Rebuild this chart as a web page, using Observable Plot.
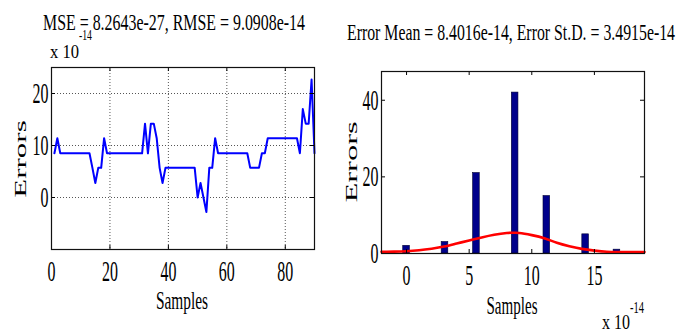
<!DOCTYPE html>
<html><head><meta charset="utf-8">
<script src="https://cdn.jsdelivr.net/npm/d3@7"></script>
<script src="https://cdn.jsdelivr.net/npm/@observablehq/plot@0.6"></script>
<style>
html,body{margin:0;padding:0;background:#fff;}
#fig{position:relative;width:698px;height:331px;overflow:hidden;background:#fff;}
#fig svg{position:absolute;top:0;}
</style></head><body><div id="fig"></div>
<script>
// ---- data ----
const sampleIndex = d3.range(1, 91);
const errorValues = [
  8.5, 11.4, 8.5, 8.5, 8.5, 8.5, 8.5, 8.5, 8.5, 8.5, 8.5, 8.5, 8.5,
  5.7, 2.8, 5.7, 5.7, 11.4,
  8.5, 8.5, 8.5, 8.5, 8.5, 8.5, 8.5, 8.5, 8.5, 8.5, 8.5, 8.5, 8.5,
  14.2, 8.5, 14.2, 14.2, 11.4, 5.7, 2.8,
  5.7, 5.7, 5.7, 5.7, 5.7, 5.7, 5.7, 5.7, 5.7, 5.7, 5.7,
  0, 2.8, 0, -2.8, 5.7, 5.7, 11.4,
  8.5, 8.5, 8.5, 8.5, 8.5, 8.5, 8.5, 8.5, 8.5, 8.5, 8.5,
  5.7, 5.7, 5.7, 5.7,
  8.5, 8.5,
  11.4, 11.4, 11.4, 11.4, 11.4, 11.4, 11.4, 11.4, 11.4, 11.4, 11.4,
  8.5, 17.0, 14.2, 14.2, 22.7, 8.5
];
const histCenters = [0, 3.07, 5.58, 8.67, 11.2, 14.3, 16.8];
const histCounts  = [2, 3, 21, 42, 15, 5, 1];
const fitX = [-2, -1, 0, 1, 2, 3, 4, 5, 6, 7, 8, 8.5, 9, 10, 11, 12, 13, 14, 15, 16, 17, 18, 19];
const fitY = [0.45, 0.5, 0.6, 0.85, 1.25, 1.8, 2.6, 3.4, 4.2, 4.9, 5.35, 5.4, 5.35, 4.8, 4.0, 2.8, 1.9, 1.2, 0.75, 0.45, 0.4, 0.4, 0.4];
const leftXTicks = [0, 20, 40, 60, 80];
const leftYTicks = [0, 10, 20];
const rightXTicks = [0, 5, 10, 15];
const rightYTicks = [0, 20, 40];
const leftTitle = "MSE = 8.2643e-27, RMSE = 9.0908e-14";
const rightTitle = "Error Mean = 8.4016e-14, Error St.D. = 3.4915e-14";

// ---- tables ----
const lineData = sampleIndex.map((s, i) => ({s, e: errorValues[i]}));
const histData = histCenters.map((c, i) => ({c, n: histCounts[i]}));
const fitData = fitX.map((x, i) => ({x, y: fitY[i]}));

const FONT = "Liberation Serif";
const PH = 182, PW = 263, TK = 4;

function tickMarks(xt, yt) {
  return [
    Plot.ruleX(xt, {x: d => d, insetTop: PH - TK, stroke: "#000"}),
    Plot.ruleX(xt, {x: d => d, insetBottom: PH - TK, stroke: "#000"}),
    Plot.ruleY(yt, {y: d => d, insetRight: PW - TK, stroke: "#000"}),
    Plot.ruleY(yt, {y: d => d, insetLeft: PW - TK, stroke: "#000"})
  ];
}

const left = Plot.plot({
  width: 340, height: 331,
  marginLeft: 51, marginRight: 26, marginTop: 67, marginBottom: 82,
  x: {domain: [0, 90]},
  y: {domain: [-10, 25]},
  style: {fontFamily: FONT, background: "transparent"},
  marks: [
    Plot.gridX(leftXTicks.filter(d => d > 0), {stroke: "#555", strokeOpacity: 1, strokeDasharray: "1,2"}),
    Plot.gridY(leftYTicks, {stroke: "#555", strokeOpacity: 1, strokeDasharray: "1,2"}),
    Plot.line(lineData, {x: "s", y: "e", stroke: "#0000ff", strokeWidth: 2}),
    ...tickMarks(leftXTicks, leftYTicks),
    Plot.frame({stroke: "#111", strokeWidth: 1.2}),
    Plot.axisX(leftXTicks, {anchor: "bottom", tickSize: 0, tickPadding: 11, fontSize: 29, label: null}),
    Plot.axisY(leftYTicks, {anchor: "left", tickSize: 0, tickPadding: 3, fontSize: 29, label: null})
  ]
});

const right = Plot.plot({
  width: 358, height: 331,
  marginLeft: 41, marginRight: 54, marginTop: 71, marginBottom: 78,
  x: {domain: [-2, 19]},
  y: {domain: [0, 47.5]},
  style: {fontFamily: FONT, background: "transparent"},
  marks: [
    Plot.rectY(histData, {x1: d => d.c - 0.265, x2: d => d.c + 0.265, y1: 0, y2: "n", fill: "#00008b", stroke: "#000030", strokeWidth: 0.6}),
    Plot.line(fitData, {x: "x", y: "y", stroke: "#ff0000", strokeWidth: 2.6, curve: "natural"}),
    ...tickMarks(rightXTicks, rightYTicks),
    Plot.frame({stroke: "#111", strokeWidth: 1.2}),
    Plot.axisX(rightXTicks, {anchor: "bottom", tickSize: 0, tickPadding: 11, fontSize: 29, label: null}),
    Plot.axisY(rightYTicks, {anchor: "left", tickSize: 0, tickPadding: 3, fontSize: 29, label: null})
  ]
});

const fig = document.getElementById("fig");
left.style.left = "0px";
right.style.left = "340px";
fig.appendChild(left);
fig.appendChild(right);

// squeeze tick labels horizontally like the reference
for (const svg of [left, right]) {
  d3.select(svg).selectAll("g[aria-label$='tick label'] text").each(function() {
    const w = this.getComputedTextLength();
    this.setAttribute("textLength", w * 0.55);
    this.setAttribute("lengthAdjust", "spacingAndGlyphs");
  });
}

function label(svg, o) {
  const t = d3.select(svg).append("text")
    .attr("font-family", FONT).attr("font-size", o.size).attr("fill", "#000")
    .attr("text-anchor", o.anchor || "middle").text(o.text);
  if (o.rotate) t.attr("transform", `translate(${o.x},${o.y}) scale(${o.sx},1) rotate(-90)`);
  else t.attr("x", o.x).attr("y", o.y);
  if (o.width) t.attr("textLength", o.width).attr("lengthAdjust", "spacingAndGlyphs");
}

// left panel texts
label(left, {text: leftTitle, x: 174, y: 30, size: 22.5, width: 262});
label(left, {text: "x 10", x: 50, y: 58, size: 18, width: 29, anchor: "start"});
label(left, {text: "-14", x: 79, y: 40, size: 14, width: 13, anchor: "start"});
label(left, {text: "Samples", x: 182, y: 309, size: 25, width: 52});
label(left, {text: "Errors", x: 26, y: 159, size: 31, sx: 0.53, rotate: true});

// right panel texts
label(right, {text: rightTitle, x: 171, y: 40, size: 22.5, width: 328});
label(right, {text: "Samples", x: 172, y: 314, size: 25, width: 51});
label(right, {text: "Errors", x: 17, y: 162, size: 32.5, sx: 0.54, rotate: true});
label(right, {text: "x 10", x: 262, y: 329, size: 20, width: 28, anchor: "start"});
label(right, {text: "-14", x: 290, y: 313, size: 16, width: 14, anchor: "start"});
</script>
</body></html>
